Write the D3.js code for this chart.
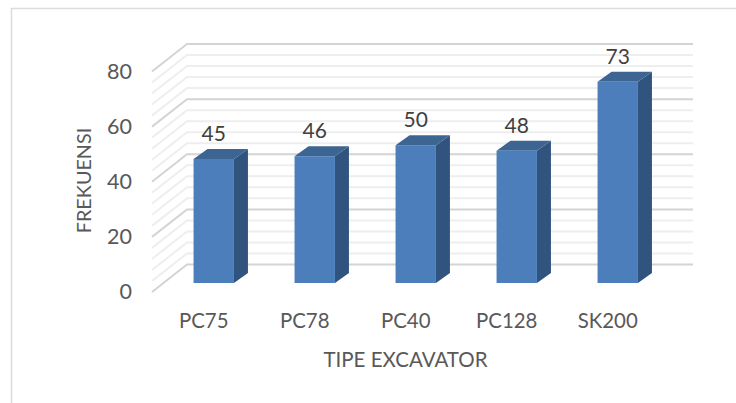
<!DOCTYPE html>
<html>
<head>
<meta charset="utf-8">
<script src="https://cdnjs.cloudflare.com/ajax/libs/d3/7.8.5/d3.min.js"></script>
<style>
body { margin: 0; background: #fff; }
svg { display: block; font-family: Lato, sans-serif; }
</style>
</head>
<body>
<svg></svg>
<script>
var categories = ["PC75", "PC78", "PC40", "PC128", "SK200"];
var frequencies = [45, 46, 50, 48, 73];
var gridValues = [0, 4, 8, 12, 16, 20, 24, 28, 32, 36, 40, 44, 48, 52, 56, 60, 64, 68, 72, 76, 80];
var yTicks = [0, 20, 40, 60, 80];

var width = 736;
var height = 403;
var backLeft = 187;
var backRight = 693;
var wallDx = 35;      // side wall, front edge sits this far left of the back
var wallDy = 27.5;    // and this far below
var barDx = 14;       // depth of one bar
var barDy = 10;
var barBase = 18.5;   // front face of bars sits this far below the back wall

var svg = d3.select("svg").attr("width", width).attr("height", height);

var yScale = d3.scaleLinear().domain([0, 80]).range([264.5, 44]);
var xScale = d3.scaleBand()
    .domain(categories)
    .range([163.25, 668.25])
    .paddingInner(0.6)
    .paddingOuter(0.3);

// outer chart border, only left and top show in the picture
svg.append("path")
    .attr("d", "M11.5,403V8.5H736")
    .attr("fill", "none")
    .attr("stroke", "#dcdcdc")
    .attr("stroke-width", 1.5);

// gridlines on back wall and side wall
svg.append("g")
    .selectAll("path")
    .data(gridValues)
    .enter()
    .append("path")
    .attr("d", d => "M" + (backLeft - wallDx) + "," + (yScale(d) + wallDy) +
        "L" + backLeft + "," + yScale(d) + "H" + backRight)
    .attr("fill", "none")
    .attr("stroke", d => d % 20 == 0 ? "#d4d4d4" : "#eeeeee")
    .attr("stroke-width", 2);

var bars = svg.append("g")
    .selectAll("g")
    .data(frequencies)
    .enter()
    .append("g");

// side face
bars.append("path")
    .attr("d", (d, i) => {
        var x = xScale(categories[i]) + xScale.bandwidth();
        var top = yScale(d) + barBase;
        var bottom = yScale(0) + barBase;
        return "M" + x + "," + top + "l" + barDx + "," + (-barDy) +
            "V" + (bottom - barDy) + "L" + x + "," + bottom + "Z";
    })
    .attr("fill", "#31547e");

// top face
bars.append("path")
    .attr("d", (d, i) => {
        var x = xScale(categories[i]);
        var top = yScale(d) + barBase;
        return "M" + x + "," + top + "l" + barDx + "," + (-barDy) +
            "h" + xScale.bandwidth() + "l" + (-barDx) + "," + barDy + "Z";
    })
    .attr("fill", "#3d6592");

// front face
bars.append("rect")
    .attr("x", (d, i) => xScale(categories[i]))
    .attr("y", d => yScale(d) + barBase)
    .attr("width", xScale.bandwidth())
    .attr("height", d => yScale(0) - yScale(d))
    .attr("fill", "#4c7ebb");

// value labels
bars.append("text")
    .attr("x", (d, i) => xScale(categories[i]) + xScale.bandwidth() / 2)
    .attr("y", d => yScale(d) + barBase - 18)
    .attr("text-anchor", "middle")
    .attr("font-size", 21)
    .attr("fill", "#404040")
    .text(d => d);

// y axis, labels only
var yAxis = d3.axisLeft(yScale).tickValues(yTicks).tickSize(0).tickPadding(0);
var yG = svg.append("g")
    .attr("transform", "translate(132," + wallDy + ")")
    .call(yAxis);
yG.select(".domain").remove();
yG.selectAll("text")
    .attr("font-family", "Lato, sans-serif")
    .attr("font-size", 21.5)
    .attr("fill", "#595959");

// x axis, labels only; the labels sit left of the bars
var xAxis = d3.axisBottom(xScale).tickSize(0).tickPadding(0);
var xG = svg.append("g")
    .attr("transform", "translate(-10,313.5)")
    .call(xAxis);
xG.select(".domain").remove();
xG.selectAll("text")
    .attr("font-family", "Lato, sans-serif")
    .attr("font-size", 20.4)
    .attr("fill", "#595959");

svg.append("text")
    .attr("x", 405.5)
    .attr("y", 367)
    .attr("text-anchor", "middle")
    .attr("font-size", 20.5)
    .attr("fill", "#595959")
    .text("TIPE EXCAVATOR");

svg.append("text")
    .attr("transform", "rotate(-90)")
    .attr("x", -180.5)
    .attr("y", 91)
    .attr("text-anchor", "middle")
    .attr("font-size", 19.8)
    .attr("fill", "#595959")
    .text("FREKUENSI");
</script>
</body>
</html>
